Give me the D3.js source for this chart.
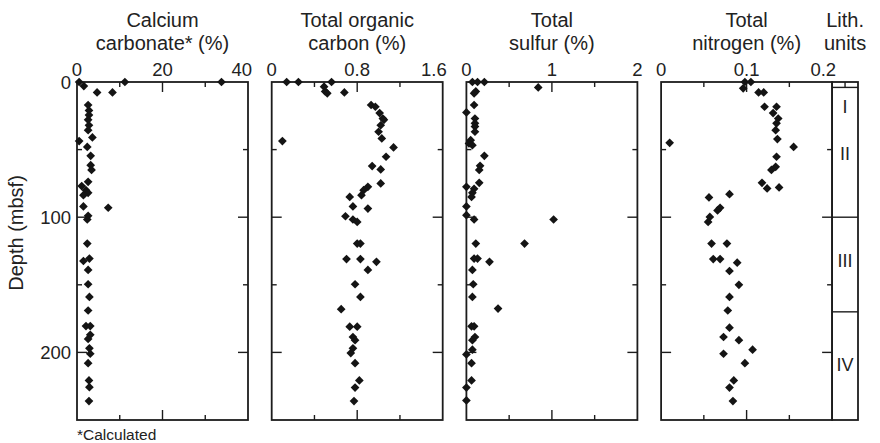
<!DOCTYPE html>
<html>
<head>
    <script src="https://cdnjs.cloudflare.com/ajax/libs/d3/7.8.5/d3.min.js"></script>
    <style>
        body, html {
            margin: 0;
            padding: 0;
            background: #fff;
            overflow: hidden;
        }
        svg {
            display: block;
            font-family: "Liberation Sans", Arial, Helvetica, sans-serif;
        }
        .frame {
            fill: none;
            stroke: #1c1c1c;
            stroke-width: 1.8px;
        }
        .tick {
            stroke: #1c1c1c;
            stroke-width: 1.4px;
        }
        text {
            fill: #222;
        }
    </style>
</head>
<body>
    <svg></svg>
    <script>
        // values (depth in mbsf)
        const caco3Depth = [0, 0, 0, 3, 7.7, 7.7, 17, 21, 24.5, 28, 32, 35.6, 41, 43.7, 48, 54.6, 61.5, 65, 73.8, 77, 80, 82, 83.7, 92, 93, 99, 101.7, 119.5, 130.6, 132.4, 139, 149.6, 159, 169, 180.5, 180.5, 187, 190, 197, 201, 208, 220.7, 225.7, 236];
        const caco3 = [0.5, 11.2, 33.8, 1.6, 4.7, 8.3, 2.6, 2.8, 2.8, 2.6, 2.8, 2.6, 3.6, 0.5, 2.4, 3.2, 3.2, 3.4, 2.6, 1.1, 2.1, 2.6, 1.5, 1.5, 7.3, 2.6, 2.4, 2.4, 2.9, 1.5, 2.6, 2.6, 2.9, 2.6, 2.1, 3.1, 3.1, 2.6, 2.9, 3.1, 2.6, 2.8, 2.9, 2.8];

        const tocDepth = [0, 0, 0, 3.5, 7, 8.4, 7.7, 17, 18.3, 23, 27, 28, 32, 36.8, 41.7, 43.7, 48.4, 55.3, 62.2, 64.7, 75, 77.5, 80, 83.7, 85, 92, 93.6, 99.3, 101.7, 103.5, 119.5, 119.5, 131, 131, 133, 139, 149.6, 159, 168, 181, 181, 188.6, 191, 197, 200.5, 208, 220.7, 226, 236];
        const toc = [0.14, 0.25, 0.56, 0.49, 0.50, 0.52, 0.68, 0.93, 0.97, 1.01, 1.04, 1.05, 1.02, 1.00, 1.03, 0.10, 1.14, 1.07, 0.94, 1.02, 1.02, 0.90, 0.86, 0.84, 0.73, 0.76, 0.90, 0.69, 0.76, 0.80, 0.80, 0.83, 0.70, 0.83, 0.98, 0.90, 0.78, 0.83, 0.65, 0.73, 0.80, 0.76, 0.78, 0.76, 0.74, 0.78, 0.82, 0.78, 0.77];

        const sulfurDepth = [0, 0, 0, 4, 7, 8.4, 17, 22.5, 27, 30.6, 33, 36.8, 43, 45.4, 46.7, 54.6, 62, 65, 74.6, 77.5, 79, 82, 85, 92, 98.5, 101.7, 101.7, 119.5, 119.5, 130.6, 130.6, 133, 139, 149.6, 159, 167.6, 180.7, 180.7, 188.6, 191, 198, 201.5, 208, 220.7, 226, 235.5];
        const sulfur = [0.07, 0.13, 0.21, 0.84, 0.11, 0.09, 0.09, 0.0, 0.1, 0.1, 0.1, 0.1, 0.05, 0.03, 0.07, 0.21, 0.16, 0.15, 0.15, 0.0, 0.09, 0.07, 0.06, 0.0, 0.0, 0.09, 1.02, 0.11, 0.68, 0.09, 0.13, 0.27, 0.07, 0.08, 0.07, 0.37, 0.06, 0.09, 0.1, 0.07, 0.07, 0.0, 0.06, 0.06, 0.0, 0.0];

        const nitrogenDepth = [0, 0, 4.7, 7.7, 7.7, 18.3, 18.3, 23, 27, 30.6, 35.6, 42.2, 45, 48, 55.3, 62.7, 65, 74.6, 78.7, 78, 83, 85.4, 93, 95, 99.8, 103.5, 119.5, 119.5, 131, 131, 133.6, 139.8, 150, 159, 169, 181.7, 188.6, 191, 198, 201, 208, 220.7, 226, 236];
        const nitrogen = [0.098, 0.105, 0.096, 0.114, 0.12, 0.121, 0.135, 0.131, 0.137, 0.135, 0.134, 0.136, 0.01, 0.155, 0.135, 0.134, 0.129, 0.118, 0.124, 0.138, 0.08, 0.056, 0.069, 0.066, 0.057, 0.055, 0.059, 0.077, 0.061, 0.069, 0.089, 0.08, 0.091, 0.08, 0.078, 0.08, 0.073, 0.091, 0.107, 0.073, 0.098, 0.085, 0.08, 0.084];

        const titles = [["Calcium", "carbonate* (%)"], ["Total organic", "carbon (%)"], ["Total", "sulfur (%)"], ["Total", "nitrogen (%)"]];
        const xMax = [40, 1.6, 2, 0.2];
        const xTickLabels = [["0", "20", "40"], ["0", "0.8", "1.6"], ["0", "1", "2"], ["0", "0.1", "0.2"]];

        const depthLabels = [0, 100, 200];
        const depthMajor = [100, 200];
        const depthMinor = [50, 150];

        const lithNames = ["I", "II", "III", "IV"];
        const lithLabelDepth = [18, 53, 132, 209];
        const lithBounds = [4, 100, 170];

        const series = [[caco3Depth, caco3], [tocDepth, toc], [sulfurDepth, sulfur], [nitrogenDepth, nitrogen]];

        const width = 880, height = 443;
        const plotTop = 82, plotBottom = 420;
        const panelLeft = 77, panelW = 171, panelStep = 194.7;

        const svg = d3.select("svg")
            .attr("width", width)
            .attr("height", height);

        const y = d3.scaleLinear().domain([0, 250]).range([plotTop, plotBottom]);

        const diamond = d3.symbol(d3.symbolSquare, 38);

        series.forEach((s, i) => {
            const x0 = panelLeft + i * panelStep;
            const x = d3.scaleLinear().domain([0, xMax[i]]).range([x0, x0 + panelW]);
            const g = svg.append("g");

            // titles
            titles[i].forEach((t, k) => {
                g.append("text")
                    .attr("x", x0 + panelW / 2)
                    .attr("y", 27 + k * 23)
                    .attr("text-anchor", "middle")
                    .style("font-size", "20px")
                    .text(t);
            });

            // top tick labels
            const lv = [0, xMax[i] / 2, xMax[i]];
            xTickLabels[i].forEach((t, k) => {
                const last = k === 2 && t.length > 1;
                g.append("text")
                    .attr("x", x(lv[k]) + (last ? 4 : 0))
                    .attr("y", 76)
                    .attr("text-anchor", last ? "end" : "middle")
                    .style("font-size", "18.5px")
                    .text(t);
            });

            // x ticks, top and bottom, inward
            [0.25, 0.5, 0.75].forEach(f => {
                const len = f === 0.5 ? 10 : 5;
                const xx = x(xMax[i] * f);
                g.append("line").attr("class", "tick")
                    .attr("x1", xx).attr("x2", xx).attr("y1", plotTop).attr("y2", plotTop + len);
                g.append("line").attr("class", "tick")
                    .attr("x1", xx).attr("x2", xx).attr("y1", plotBottom).attr("y2", plotBottom - len);
            });

            // depth ticks, both sides, inward
            depthMajor.concat(depthMinor).forEach(d => {
                const len = depthMajor.includes(d) ? 10 : 5;
                g.append("line").attr("class", "tick")
                    .attr("x1", x0).attr("x2", x0 + len).attr("y1", y(d)).attr("y2", y(d));
                g.append("line").attr("class", "tick")
                    .attr("x1", x0 + panelW).attr("x2", x0 + panelW - len).attr("y1", y(d)).attr("y2", y(d));
            });

            g.append("rect").attr("class", "frame")
                .attr("x", x0).attr("y", plotTop)
                .attr("width", panelW).attr("height", plotBottom - plotTop);

            g.append("g")
                .selectAll("path")
                .data(s[0].map((d, k) => ({depth: d, value: s[1][k]})))
                .join("path")
                .attr("d", diamond)
                .attr("transform", d => `translate(${x(d.value)},${y(d.depth)}) rotate(45)`)
                .style("fill", "#141414");
        });

        // depth axis labels
        depthLabels.forEach(d => {
            svg.append("text")
                .attr("x", 71)
                .attr("y", y(d))
                .attr("dy", "0.36em")
                .attr("text-anchor", "end")
                .style("font-size", "18.5px")
                .text(d);
        });

        svg.append("text")
            .attr("transform", "translate(23,233) rotate(-90)")
            .attr("text-anchor", "middle")
            .style("font-size", "20px")
            .text("Depth (mbsf)");

        // lithologic units column
        const lx0 = panelLeft + 3 * panelStep + panelW, lx1 = 858;
        const lc = (lx0 + lx1) / 2;
        svg.append("rect").attr("class", "frame")
            .attr("x", lx0).attr("y", plotTop)
            .attr("width", lx1 - lx0).attr("height", plotBottom - plotTop);
        lithBounds.forEach(d => {
            svg.append("line").attr("class", "tick")
                .attr("x1", lx0).attr("x2", lx1).attr("y1", y(d)).attr("y2", y(d));
        });
        svg.append("line").attr("class", "tick")
            .attr("x1", lc).attr("x2", lc).attr("y1", plotTop).attr("y2", y(lithBounds[0]));
        lithNames.forEach((n, k) => {
            svg.append("text")
                .attr("x", lc)
                .attr("y", y(lithLabelDepth[k]))
                .attr("dy", "0.36em")
                .attr("text-anchor", "middle")
                .style("font-size", "18px")
                .text(n);
        });
        ["Lith.", "units"].forEach((t, k) => {
            svg.append("text")
                .attr("x", lc)
                .attr("y", 27 + k * 23)
                .attr("text-anchor", "middle")
                .style("font-size", "20px")
                .text(t);
        });

        svg.append("text")
            .attr("x", 77)
            .attr("y", 440)
            .style("font-size", "15.5px")
            .text("*Calculated");
    </script>
</body>
</html>
